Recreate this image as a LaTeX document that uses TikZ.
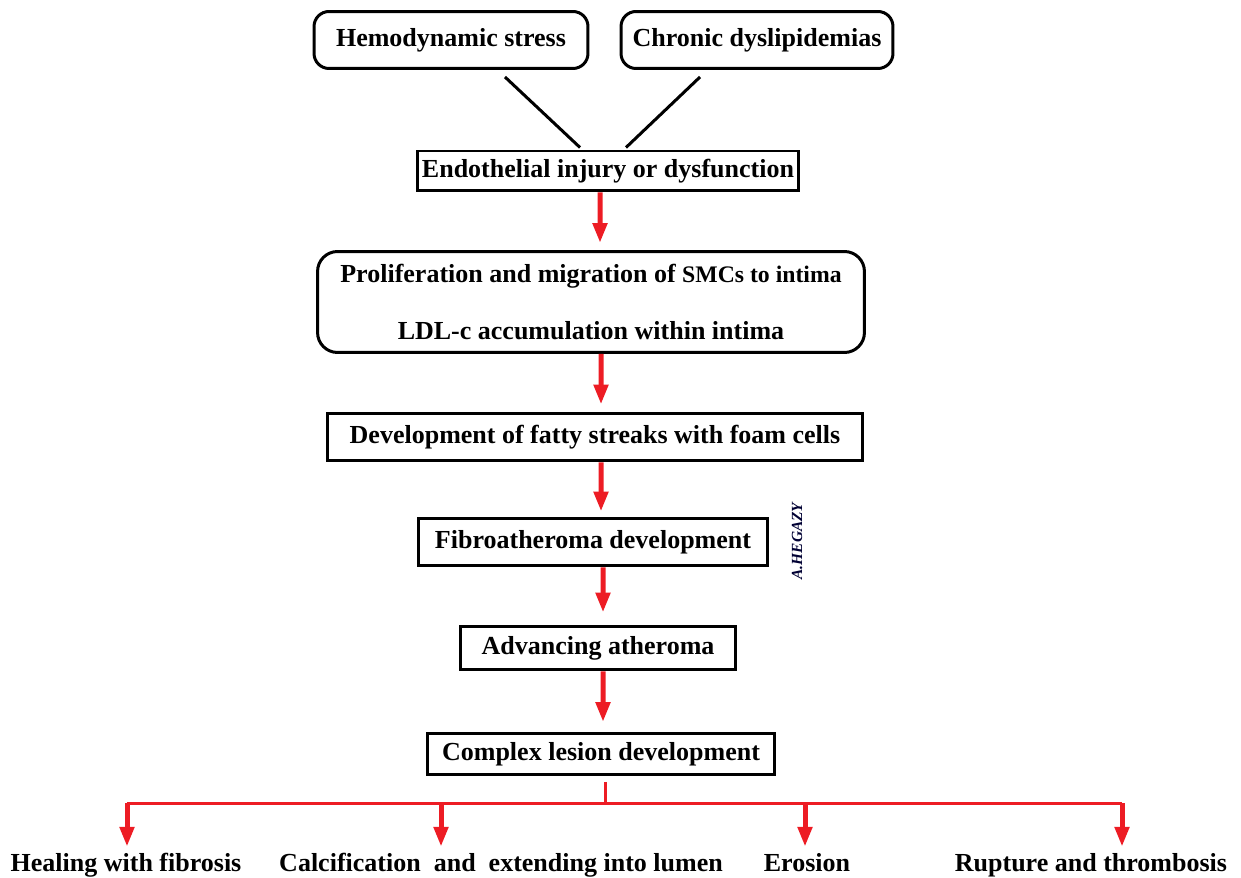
\documentclass[tikz,border=0pt]{standalone}
\usepackage{fontspec}
\setmainfont{Liberation Serif}
\usetikzlibrary{arrows.meta,calc,positioning}
\definecolor{arrowred}{HTML}{ED1C24}

\begin{document}
\begin{tikzpicture}[
    x=0.02cm, y=-0.02cm,
    font=\fontsize{14.8}{18}\selectfont\bfseries,
    fixtext/.style={text height=0.8em, text depth=0.1em},
    box/.style={rectangle, draw, line width=0.06cm, inner sep=0pt},
    roundbox/.style={box, rounded corners=0.3cm},
    outcome/.style={inner sep=0pt, fixtext},
    joinline/.style={draw, line width=0.06cm},
    redarrow/.style={draw=arrowred, line width=0.1cm,
                     -{Triangle[length=0.4cm,width=0.28cm]}},
    redline/.style={draw=arrowred, line width=0.06cm}]
  \useasboundingbox (0,0) rectangle (1241,878);

  % causes
  \node[roundbox, fixtext, minimum width=5.48cm, minimum height=1.14cm] (hemo) at (451,40) {Hemodynamic stress};
  \node[roundbox, fixtext, minimum width=5.44cm, minimum height=1.14cm] (chronic) at (757,40) {Chronic dyslipidemias};

  % main chain
  \node[box, fixtext, minimum width=7.62cm, minimum height=0.8cm] (endo) at (608,171) {Endothelial injury or dysfunction};
  \node[roundbox, rounded corners=0.4cm, minimum width=10.94cm, minimum height=2.02cm, align=center] (prolif) at (591,302)
    {Proliferation and migration of {\fontsize{13.5}{18}\selectfont SMCs to intima}\\[14pt]LDL-c accumulation within intima};
  \node[box, fixtext, minimum width=10.7cm, minimum height=0.96cm] (fatty) at (595,437) {Development of fatty streaks with foam cells};
  \node[box, fixtext, minimum width=7cm, minimum height=0.96cm] (fibro) at (593,542) {Fibroatheroma development};
  \node[box, fixtext, minimum width=5.52cm, minimum height=0.88cm] (adv) at (598,648) {Advancing atheroma};
  \node[box, fixtext, minimum width=6.94cm, minimum height=0.82cm] (complex) at (601,754) {Complex lesion development};

  \node[rotate=90, font=\fontsize{8.8}{10}\selectfont\bfseries\itshape, text=black!80!blue] (sign) at (797,541) {A.HEGAZY};

  % outcomes
  \node[outcome] (heal) at (126,865) {Healing with fibrosis};
  \node[outcome] (calc) at (501,865) {Calcification~~and~~extending into lumen};
  \node[outcome] (eros) at (807,865) {Erosion};
  \node[outcome] (rupt) at (1091,865) {Rupture and~thrombosis};

  \draw[joinline] ([xshift=1.08cm, yshift=-0.14cm]hemo.south) -- ([xshift=-0.56cm, yshift=0.04cm]endo.north);
  \draw[joinline] ([xshift=-1.14cm, yshift=-0.14cm]chronic.south) -- ([xshift=0.36cm, yshift=0.04cm]endo.north);

  \draw[redarrow, shorten >=0.14cm] ([xshift=-0.16cm]endo.south) -- ([xshift=0.18cm]prolif.north);
  \draw[redarrow, shorten >=0.14cm] ([xshift=0.2cm]prolif.south) -- ([xshift=0.12cm]fatty.north);
  \draw[redarrow, shorten >=0.1cm] ([xshift=0.12cm]fatty.south) -- ([xshift=0.16cm]fibro.north);
  \draw[redarrow, shorten >=0.24cm] ([xshift=0.2cm]fibro.south) -- ([xshift=0.1cm]adv.north);
  \draw[redarrow, shorten >=0.2cm] ([xshift=0.1cm]adv.south) -- ([xshift=0.04cm]complex.north);

  % branching
  \coordinate (split) at (605,803);
  \coordinate (d1) at (127,803);
  \coordinate (d2) at (441,803);
  \coordinate (d3) at (805,803);
  \coordinate (d4) at (1122,803);
  \draw[redline, shorten <=0.12cm] (split |- complex.south) -- (split);
  \draw[redline] (d1) -- (d4);
  \foreach \d/\o in {d1/heal, d2/calc, d3/eros, d4/rupt}
    \draw[redarrow, shorten >=0.2cm] (\d) -- (\d |- \o.north);
\end{tikzpicture}
\end{document}
